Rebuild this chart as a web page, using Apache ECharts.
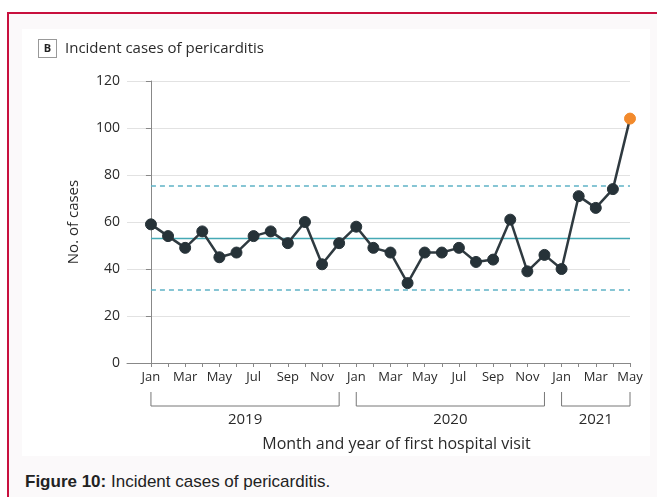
<!DOCTYPE html>
<html>
<head>
<meta charset="utf-8">
<script src="https://cdn.jsdelivr.net/npm/echarts@6/dist/echarts.min.js"></script>
<style>
	html, body { margin: 0; padding: 0; background: #fff; overflow: hidden; }
	.frame {
		position: absolute; left: 7px; top: 12px; width: 700px; height: 520px;
		border-left: 2px solid #c8103e; border-top: 2px solid #c8103e;
		background: #fbf9fa;
	}
	.panel { position: absolute; left: 22px; top: 29px; width: 628px; height: 427px; background: #fff; }
	.caption {
		position: absolute; left: 25px; top: 472px;
		font-family: "Liberation Sans", Arial, sans-serif; font-size: 17px; color: #222;
	}
	#chart { position: absolute; left: 0; top: 0; width: 657px; height: 497px; }
</style>
</head>
<body>
<div class="frame"></div>
<div class="panel"></div>
<div class="caption"><b>Figure 10:</b> Incident cases of pericarditis.</div>
<div id="chart"></div>
<script>
	// months Jan 2019 .. May 2021
	var months = ["Jan", "Feb", "Mar", "Apr", "May", "Jun", "Jul", "Aug", "Sep", "Oct", "Nov", "Dec",
		"Jan", "Feb", "Mar", "Apr", "May", "Jun", "Jul", "Aug", "Sep", "Oct", "Nov", "Dec",
		"Jan", "Feb", "Mar", "Apr", "May"];
	var cases = [59, 54, 49, 56, 45, 47, 54, 56, 51, 60, 42, 51,
		58, 49, 47, 34, 47, 47, 49, 43, 44, 61, 39, 46,
		40, 71, 66, 74, 104];
	var years = ["2019", "2020", "2021"];
	var yearStart = [0, 12, 24];
	var yearEnd = [11, 23, 28];
	var centerLine = 53.2;
	var upperLimit = 75.3;
	var lowerLimit = 31.3;

	var font = "Open Sans";
	var chart = echarts.init(document.getElementById("chart"));

	var points = cases.map(function (v, i) {
		var p = { value: [i, v] };
		if (i === cases.length - 1) {
			p.itemStyle = { color: "#f28a2c", borderColor: "#f28a2c" };
		}
		return p;
	});

	var tickIdx = months.map(function (m, i) { return i; });
	var labelIdx = tickIdx.filter(function (i) { return i % 2 === 0; });

	var option = {
		animation: false,
		title: {
			left: 34, top: 35,
			text: "{b|B}{t|Incident cases of pericarditis}",
			textStyle: {
				fontWeight: "normal",
				rich: {
					b: {
						fontFamily: font, fontWeight: "bold", fontSize: 11, color: "#222",
						borderColor: "#999", borderWidth: 1, backgroundColor: "#fff",
						width: 17, height: 17, align: "center", lineHeight: 17
					},
					t: { fontFamily: font, fontWeight: "normal", fontSize: 15, color: "#2a2a2a", padding: [0, 0, 0, 9] }
				}
			}
		},
		grid: { left: 127, right: 27, top: 81, bottom: 134 },
		xAxis: {
			type: "value",
			min: -1.4,
			max: 28,
			splitLine: { show: false },
			axisLine: { show: true, lineStyle: { color: "#888", width: 1 } },
			axisTick: { show: true, customValues: tickIdx, length: 4, lineStyle: { color: "#888" } },
			axisLabel: {
				customValues: labelIdx,
				formatter: function (v) { return months[Math.round(v)]; },
				fontFamily: font, fontSize: 13, color: "#2a2a2a", margin: 8
			},
			name: "Month and year of first hospital visit",
			nameLocation: "middle",
			nameGap: 73,
			nameTextStyle: { fontFamily: font, fontSize: 16, color: "#2a2a2a", padding: [0, 0, 0, 36] }
		},
		yAxis: {
			type: "value",
			min: 0,
			max: 120,
			interval: 20,
			axisLine: { show: true, lineStyle: { color: "#888" } },
			axisTick: { show: true, length: 5, lineStyle: { color: "#888" } },
			axisLabel: { fontFamily: font, fontSize: 14, color: "#2a2a2a", margin: 7 },
			splitLine: { lineStyle: { color: "#e2e2e2", width: 1 } },
			name: "No. of cases",
			nameLocation: "middle",
			nameGap: 46,
			nameTextStyle: { fontFamily: font, fontSize: 15, color: "#2a2a2a" }
		},
		series: [
			{
				type: "line",
				data: points,
				symbol: "circle",
				symbolSize: 11,
				lineStyle: { color: "#2f3a40", width: 2.5 },
				itemStyle: { color: "#263238", borderColor: "#263238" },
				z: 5,
				markLine: {
					silent: true,
					symbol: "none",
					label: { show: false },
					data: [
						[{ coord: [0, centerLine], lineStyle: { type: "solid", color: "#45a9b5", width: 1.3 } },
							{ coord: [cases.length - 1, centerLine] }],
						[{ coord: [0, upperLimit], lineStyle: { type: [5, 4], color: "#5fb3c6", width: 1.5 } },
							{ coord: [cases.length - 1, upperLimit] }],
						[{ coord: [0, lowerLimit], lineStyle: { type: [5, 4], color: "#5fb3c6", width: 1.5 } },
							{ coord: [cases.length - 1, lowerLimit] }]
					]
				}
			},
			{
				type: "custom",
				clip: false,
				silent: true,
				data: years.map(function (y, i) { return [yearStart[i], yearEnd[i], 0]; }),
				encode: { x: [0, 1], y: 2 },
				renderItem: function (params, api) {
					var s = api.coord([api.value(0), 0]);
					var e = api.coord([api.value(1), 0]);
					var top = s[1] + 29, bot = s[1] + 43;
					var stroke = { stroke: "#777", lineWidth: 1, fill: null };
					return {
						type: "group",
						children: [
							{ type: "polyline", shape: { points: [[s[0], top], [s[0], bot], [e[0], bot], [e[0], top]] }, style: stroke },
							{
								type: "text",
								style: {
									x: (s[0] + e[0]) / 2, y: s[1] + 57,
									text: years[params.dataIndex],
									align: "center", verticalAlign: "middle",
									fontFamily: font, fontSize: 15, fill: "#2a2a2a"
								}
							}
						]
					};
				}
			}
		]
	};

	chart.setOption(option);
</script>
</body>
</html>
